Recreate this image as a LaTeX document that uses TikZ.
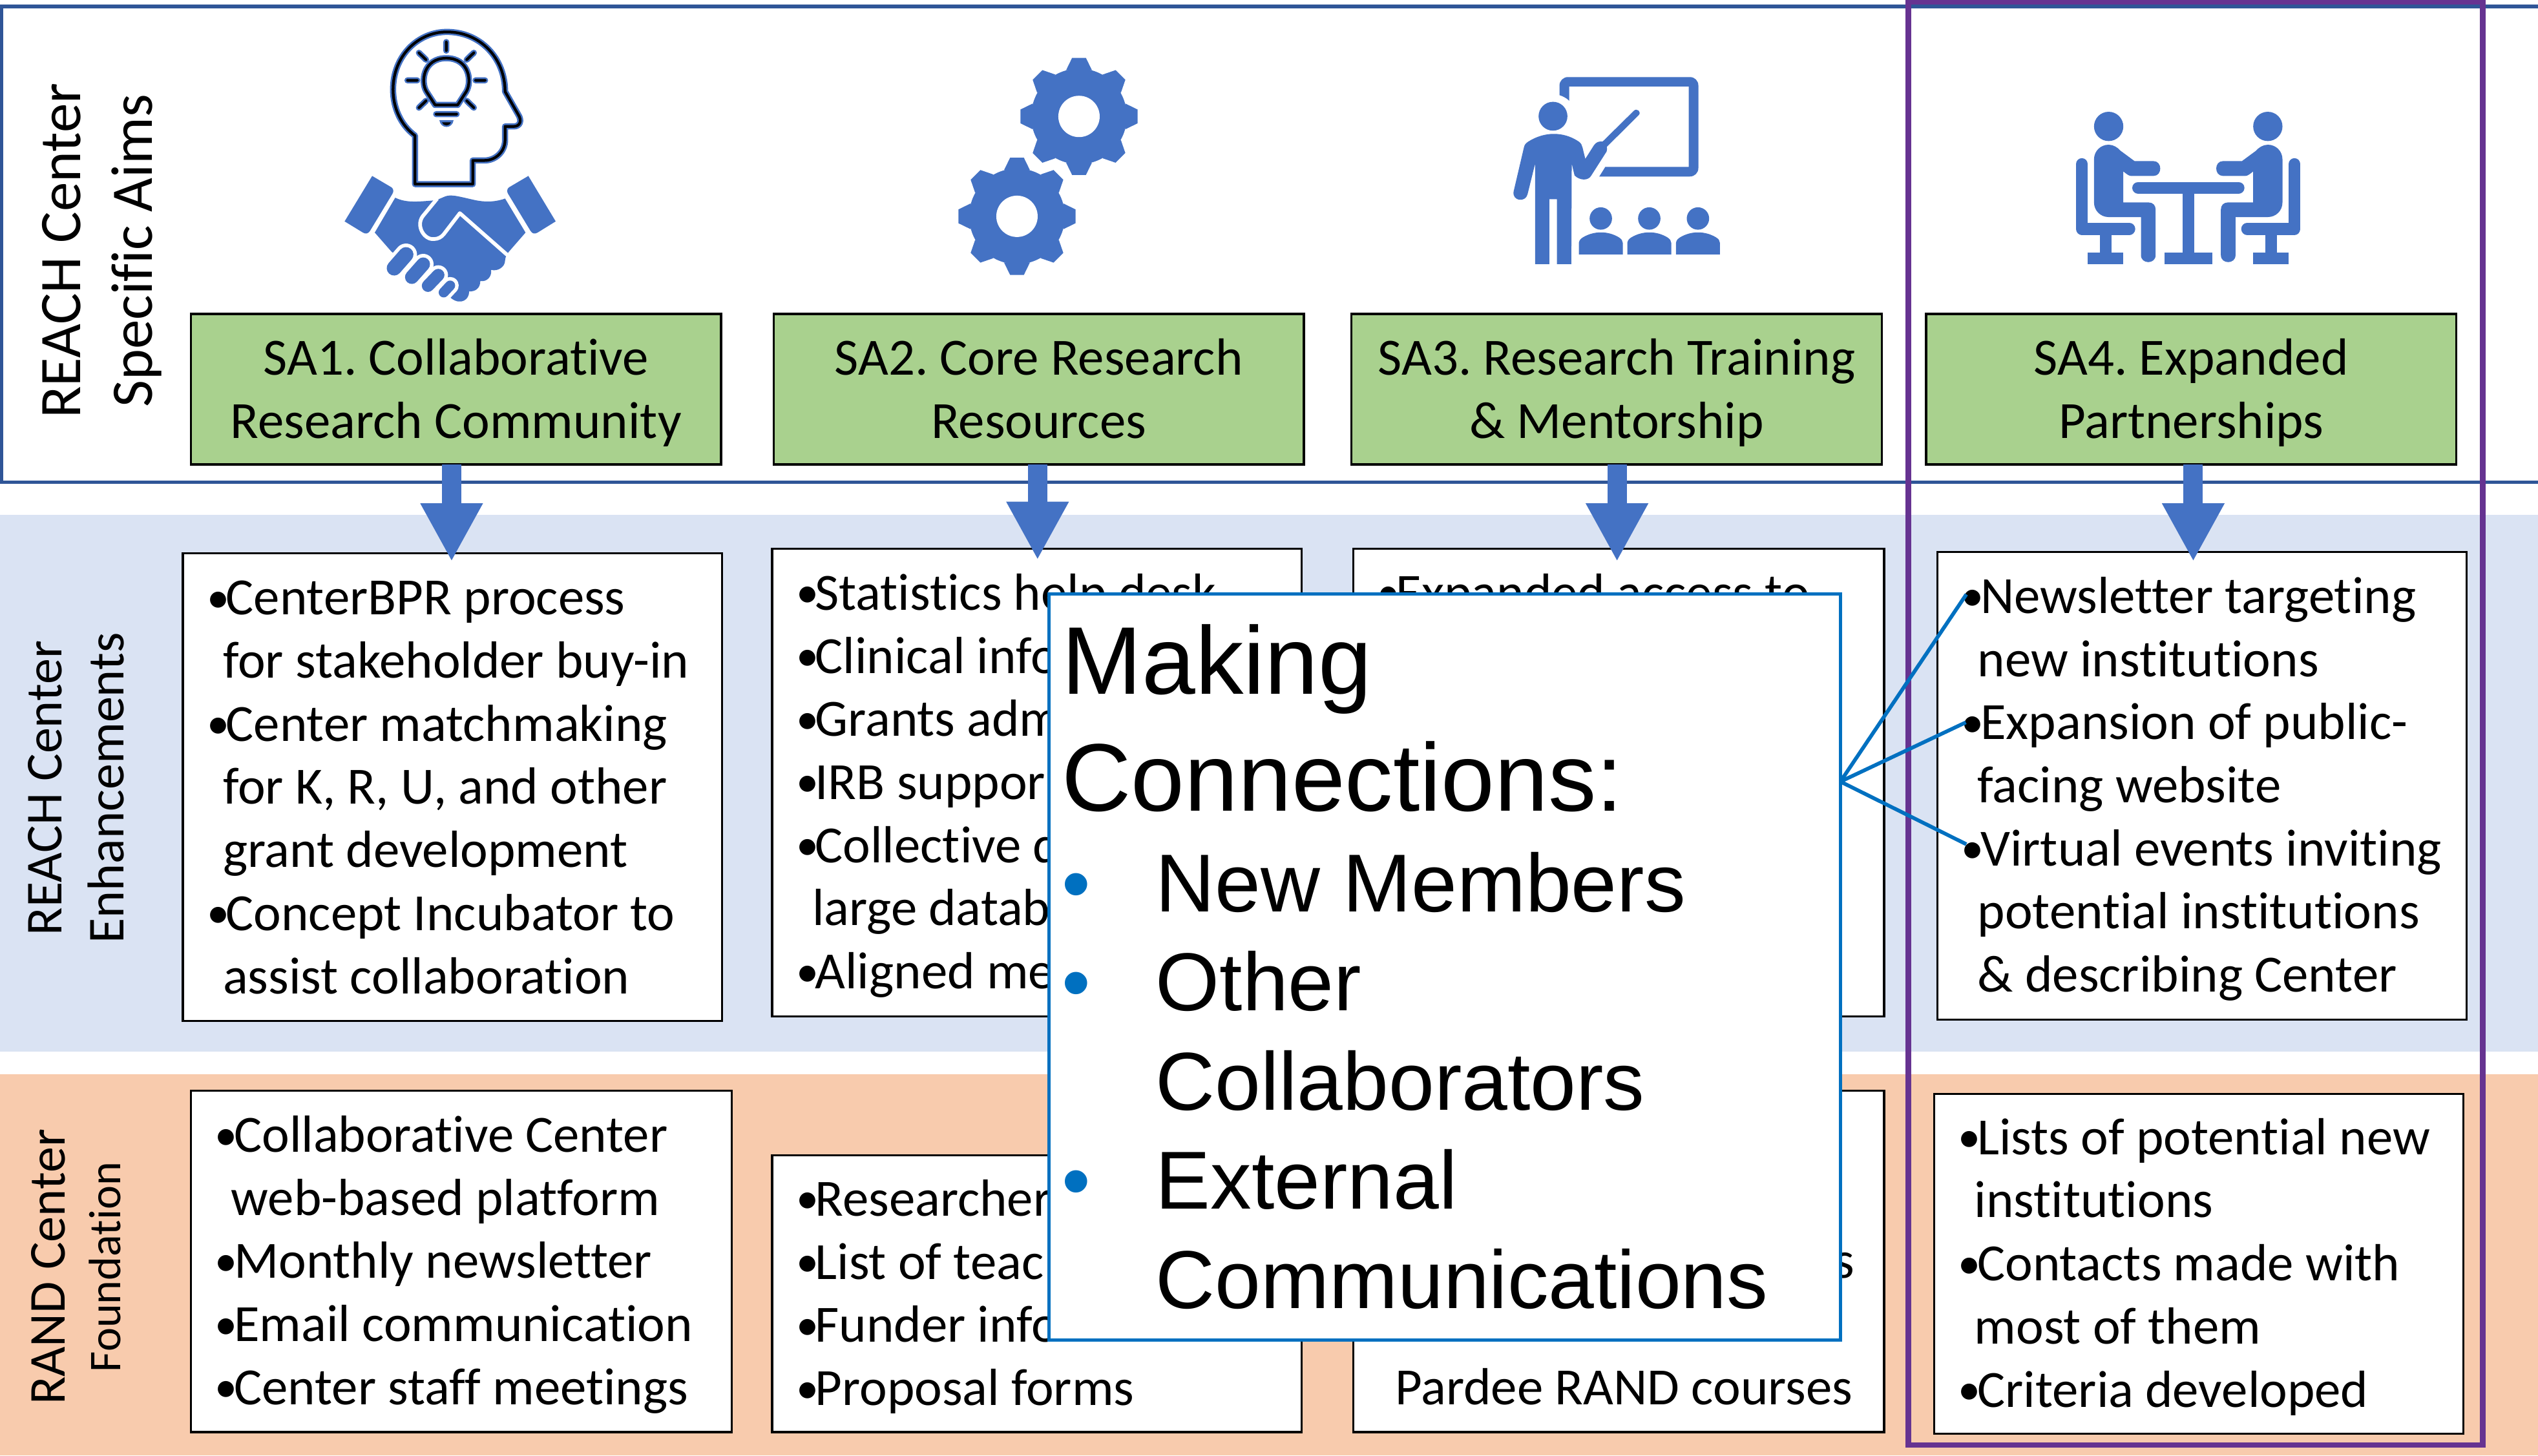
\documentclass[tikz,border=0pt]{standalone}
\usepackage{fontspec}
\setmainfont[Ligatures=NoCommon]{Carlito}
\newfontfamily\arialFont{Liberation Sans}
\usetikzlibrary{arrows.meta}
\definecolor{frameColor}{RGB}{47,85,151}
\definecolor{iconColor}{RGB}{68,114,196}
\definecolor{greenColor}{RGB}{169,209,142}
\definecolor{enhanceColor}{RGB}{218,227,243}
\definecolor{foundColor}{RGB}{248,203,173}
\definecolor{calloutColor}{RGB}{0,112,192}
\definecolor{purpleColor}{RGB}{102,51,145}
\frenchspacing
\newcommand{\bu}{\hspace*{8pt}\makebox[5.3pt][l]{\hspace*{-0.6pt}\raisebox{0.7pt}{\fontsize{14}{14}\selectfont •}}}
\newcommand{\ind}{\hspace*{12.4pt}}
\newcommand{\headLine}[1]{{\fontsize{29.7}{36}\selectfont #1\par}}
\newcommand{\listLine}[1]{{\fontsize{25.4}{30.65}\selectfont\makebox[29pt][l]{\textcolor{calloutColor}{•}}#1\par}}
\newcommand{\restLine}[1]{{\fontsize{25.4}{30.65}\selectfont\hspace*{29pt}#1\par}}
\newcommand{\gearIcon}[2]{\begin{scope}[shift={(#1,#2)}]
\fill[iconColor] (0,0) circle[radius=222];
\foreach \a in {0,45,...,315} {\fill[iconColor] (\a-15.6:223) -- (\a-6.7:274) -- (\a+6.7:274) -- (\a+15.6:223) -- cycle;}
\fill[white] (0,0) circle[radius=96];
\end{scope}}
\tikzset{
  textBox/.style 2 args={draw=black,fill=white,line width=0.65pt,anchor=north west,inner sep=0pt,outer sep=0pt,
    text width=#1*0.5pt,minimum height=#2*0.5pt,align=flush left,font=\fontsize{16.15}{19.5}\selectfont,
    execute at begin node=\rule{0pt}{16.3pt},execute at end node=\strut},
  aimBox/.style={draw=black,fill=greenColor,line width=0.65pt,anchor=north west,inner xsep=0pt,inner ysep=0pt,outer sep=0pt,
    text width=163.75pt,minimum height=46.5pt,align=flush center,font=\fontsize{16.15}{19.5}\selectfont,
    execute at begin node=\rule{0pt}{16.6pt},execute at end node=\strut},
  rowLabel/.style={rotate=90,align=center,inner sep=0pt},
  blockArrow/.style={draw=iconColor,line width=6pt,-{Triangle[width=18pt,length=18pt]}},
  linkLine/.style={draw=calloutColor,line width=1.15pt},
  iconUnits/.style={x=0.06653pt,y=-0.06653pt},
  headLine/.style={line join=round,line cap=round,fill=none}
}
\begin{document}
\begin{tikzpicture}[x=0.5pt,y=-0.5pt]
\path[use as bounding box,fill=white] (0,0) rectangle (1568,899.4);

% rows
\fill[enhanceColor] (0,318) rectangle (1568,650);
\fill[foundColor] (0,664) rectangle (1568,899.4);
\draw[frameColor,line width=1.05pt] (0.8,4) rectangle (1575,298);

% head and handshake
\begin{scope}[shift={(199.6,12)},iconUnits]
\foreach \w/\c in {1.9pt/iconColor,0.85pt/black} {
\draw[\c,line width=\w,headLine] (427,765) -- (427,540) .. controls (360,490) and (325,410) .. (325,325) .. controls (325,170) and (440,58) .. (575,58) .. controls (730,58) and (845,180) .. (845,335) -- (905,440) .. controls (925,470) and (915,497) .. (885,497) -- (845,497) -- (845,560) .. controls (845,615) and (800,655) .. (750,655) -- (695,655) -- (695,765) -- cycle;
\draw[\c,line width=\w,headLine] (520,397) -- (480,335) .. controls (452,290) and (465,180) .. (572,180) .. controls (680,180) and (692,290) .. (665,335) -- (625,397) -- cycle;
\draw[\c,line width=\w,headLine] (572,105) -- (572,145) (445,155) -- (478,187) (700,155) -- (667,187) (392,283) -- (437,283) (708,283) -- (752,283) (445,410) -- (478,378) (700,410) -- (667,378) (525,440) -- (620,440);
}
\fill[iconColor] (540,468) -- (606,468) .. controls (600,510) and (546,510) .. (540,468) -- cycle;
\fill[black] (552,478) -- (594,478) .. controls (588,497) and (558,497) .. (552,478) -- cycle;
\fill[iconColor] (228,727) -- (318,780) .. controls (328,788) and (328,800) .. (322,810) -- (218,982) .. controls (210,995) and (198,998) .. (185,990) -- (100,938) -- cycle;
\fill[iconColor] (953,727) -- (863,780) .. controls (853,788) and (853,800) .. (859,810) -- (963,982) .. controls (971,995) and (983,998) .. (996,990) -- (1080,938) -- cycle;
\fill[iconColor] (335,828) .. controls (390,855) and (450,845) .. (525,840) -- (560,825) .. controls (590,810) and (620,820) .. (700,838) .. controls (760,852) and (810,845) .. (845,832) -- (940,990) -- (860,1082) .. controls (858,1090) and (845,1100) .. (845,1120) .. controls (845,1150) and (810,1172) .. (780,1163) .. controls (785,1195) and (760,1220) .. (730,1215) .. controls (730,1250) and (705,1265) .. (678,1263) .. controls (680,1300) and (640,1330) .. (595,1295) -- (317,1078) -- (240,990) -- cycle;
\draw[white,line width=1.15pt,line join=round] (530,832) -- (462,915) .. controls (430,960) and (470,1025) .. (515,1020) .. controls (535,1020) and (550,1010) .. (560,998) -- (635,900) -- (860,1098);
\foreach \xa/\ya/\xb/\yb/\w in {330/1155/385/1092/4.6,412/1197/465/1137/4.2,487/1237/535/1187/3.8,560/1268/590/1236/3.1} {
\draw[white,line width=\w pt+2.2pt,line cap=round] (\xa,\ya) -- (\xb,\yb);
\draw[iconColor,line width=\w pt,line cap=round] (\xa,\ya) -- (\xb,\yb);
}
\end{scope}

% gears
\begin{scope}[shift={(578.8,27.9)},iconUnits]
\gearIcon{372}{795}
\gearIcon{660}{331}
\end{scope}

% teacher
\begin{scope}[shift={(918.2,35.9)},iconUnits]
\fill[iconColor] (340,172) -- (340,128) .. controls (340,105) and (358,88) .. (380,88) -- (945,88) .. controls (968,88) and (985,105) .. (985,128) -- (985,510) .. controls (985,533) and (968,550) .. (945,550) -- (525,550) -- (553,505) -- (940,505) -- (940,132) -- (385,132) -- (385,198) .. controls (372,185) and (358,178) .. (340,172) -- cycle;
\fill[iconColor] (310,270) circle[radius=67];
\fill[iconColor] (227,957) -- (227,490) -- (192,632) .. controls (183,672) and (120,665) .. (127,620) -- (175,415) .. controls (178,400) and (185,395) .. (195,388) .. controls (270,340) and (360,340) .. (430,388) .. controls (440,395) and (445,405) .. (447,415) -- (460,468) -- (500,405) .. controls (510,390) and (525,385) .. (540,388) -- (685,245) .. controls (700,230) and (722,250) .. (708,265) -- (560,412) .. controls (562,425) and (560,435) .. (555,440) -- (488,545) .. controls (475,570) and (435,570) .. (410,545) -- (397,490) -- (395,957) -- (328,957) -- (328,655) -- (293,655) -- (293,957) -- cycle;
\foreach \dx in {0,225,451} {
\fill[iconColor] (532+\dx,745) circle[radius=52];
\fill[iconColor] (430+\dx,912) -- (430+\dx,858) .. controls (432+\dx,845) and (440+\dx,838) .. (450+\dx,832) .. controls (500+\dx,802) and (565+\dx,802) .. (615+\dx,832) .. controls (628+\dx,840) and (634+\dx,848) .. (634+\dx,858) -- (634+\dx,912) -- cycle;
}
\end{scope}

% two people at table
\begin{scope}[shift={(1257.5,55.9)},iconUnits]
\foreach \sx/\tx in {1/0,-1/1419} {
\begin{scope}[shift={(\tx,0)},xscale=\sx]
\fill[iconColor] (340,167) circle[radius=68];
\fill[iconColor] (272,320) .. controls (272,282) and (302,252) .. (340,252) .. controls (362,252) and (382,265) .. (395,280) -- (460,328) -- (548,328) .. controls (590,328) and (590,397) .. (548,397) -- (445,397) .. controls (435,397) and (428,392) .. (408,376) -- (408,520) -- (525,520) .. controls (545,520) and (558,533) .. (558,553) -- (558,765) .. controls (558,808) and (490,808) .. (490,765) -- (490,588) -- (340,588) .. controls (302,588) and (272,558) .. (272,520) -- cycle;
\draw[iconColor,line width=3.66pt,line cap=round,line join=round] (216,342) -- (216,643) -- (436,643);
\fill[iconColor] (299,643) rectangle (353,780);
\fill[iconColor] (243,752) rectangle (408,808);
\end{scope}
}
\draw[iconColor,line width=3.66pt,line cap=round] (477,452) -- (943,452);
\fill[iconColor] (683,452) rectangle (737,780);
\fill[iconColor] (600,752) rectangle (820,808);
\end{scope}

% row labels
\node[rowLabel,font=\fontsize{18.2}{22}\selectfont] (aimsLabel) at (63,155) {REACH Center\\Specific Aims};
\node[rowLabel,font=\fontsize{16}{19}\selectfont] (enhanceLabel) at (47,487) {REACH Center\\Enhancements};
\node[rowLabel,font=\fontsize{16}{19}\selectfont] (randLabel) at (30,783) {RAND Center};
\node[rowLabel,font=\fontsize{14}{17}\selectfont] (foundLabel) at (65,783) {Foundation};

% specific aims
\node[aimBox] (sa1) at (118,194) {SA1. Collaborative\\Research Community};
\node[aimBox] (sa2) at (478,194) {SA2. Core Research\\Resources};
\node[aimBox] (sa3) at (835,194) {SA3. Research Training\\\& Mentorship};
\node[aimBox] (sa4) at (1190,194) {SA4. Expanded\\Partnerships};

% enhancements
\node[textBox={333}{289}] (enh1) at (113,342) {\bu CenterBPR process\\\ind for stakeholder buy-in\\\bu Center matchmaking\\\ind for K, R, U, and other\\\ind grant development\\\bu Concept Incubator to\\\ind assist collaboration};
\node[textBox={327}{289}] (enh2) at (477,339) {\bu Statistics help desk\\\bu Clinical info\\\bu Grants adm\\\bu IRB suppor\\\bu Collective d\\\ind large datab\\\bu Aligned me};
\node[textBox={328}{289}] (enh3) at (836,339) {\bu Expanded access to\\\strut\\\strut\\\strut\\\strut\\\strut\\\strut};
\node[textBox={327}{289}] (enh4) at (1197,341) {\bu Newsletter targeting\\\ind new institutions\\\bu Expansion of public-\\\ind facing website\\\bu Virtual events inviting\\\ind potential institutions\\\ind \& describing Center};

% foundation
\node[textBox={334}{211}] (fnd1) at (118,674) {\bu Collaborative Center\\\ind web-based platform\\\bu Monthly newsletter\\\bu Email communication\\\bu Center staff meetings};
\node[textBox={327}{171}] (fnd2) at (477,714) {\bu Researcher\\\bu List of teac\\\bu Funder info\\\bu Proposal forms};
\node[textBox={328}{211}] (fnd3) at (836,674) {\strut\\\strut\\\hspace*{148.5pt}s\\\strut\\\hspace*{13pt}Pardee RAND courses};
\node[textBox={327}{210}] (fnd4) at (1195,676) {\bu Lists of potential new\\\ind institutions\\\bu Contacts made with\\\ind most of them\\\bu Criteria developed};

% arrows from aims to enhancements
\coordinate (tip1) at (279,347);
\coordinate (tip2) at (641,346);
\coordinate (tip3) at (999,347);
\coordinate (tip4) at (1355,347);
\foreach \i in {1,2,3,4} {\draw[blockArrow] (sa\i.south -| tip\i) -- (tip\i);}

% SA4 column
\draw[purpleColor,line width=1.75pt] (1179,1) rectangle (1534,893);

% callout
\node[draw=calloutColor,fill=white,line width=1.05pt,anchor=north west,inner xsep=4pt,inner ysep=0pt,outer sep=0pt,text width=236.5pt,minimum height=230.5pt,align=flush left,font=\arialFont] (makingBox) at (648,367) {\headLine{Making}\headLine{Connections:}\vspace{0.5pt}\listLine{New Members}\listLine{Other}\restLine{Collaborators}\listLine{External}\restLine{Communications}};
\coordinate (fanPoint) at (1137,483);
\coordinate (item1) at (1214.8,367.3);
\coordinate (item2) at (1214.5,446.4);
\coordinate (item3) at (1214.8,521.7);
\foreach \i in {1,2,3} {\draw[linkLine] (fanPoint) -- (item\i);}
\end{tikzpicture}
\end{document}
